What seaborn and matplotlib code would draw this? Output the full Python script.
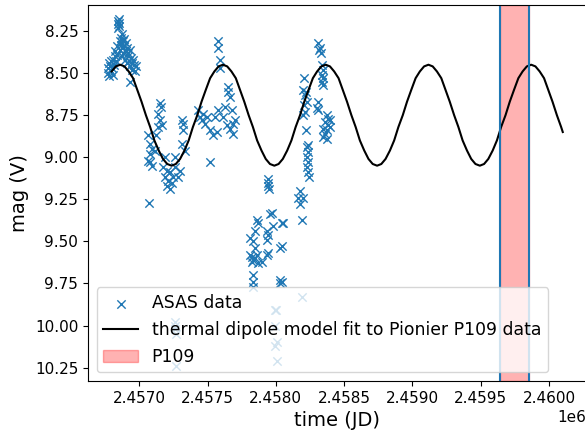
import matplotlib
matplotlib.use("Agg")
import matplotlib.pyplot as plt
import seaborn as sns

# ASAS photometry (JD, V mag)
asas_jd = [
    2456772, 2456775, 2456778, 2456782, 2456786, 2456790, 2456795, 2456800, 2456805, 2456810,
    2456815, 2456820, 2456825, 2456830, 2456835, 2456840, 2456843, 2456846, 2456848, 2456850,
    2456852, 2456855, 2456858, 2456862, 2456865, 2456868, 2456871, 2456874, 2456877, 2456880,
    2456884, 2456888, 2456892, 2456896, 2456900, 2456904, 2456908, 2456912, 2456916, 2456920,
    2456925, 2456930, 2456935, 2456940, 2456945, 2456950, 2456955, 2456962, 2456970, 2456980,
    2456932,
    2457064, 2457078, 2457092, 2457078, 2457064, 2457078, 2457092, 2457072, 2457124, 2457138,
    2457153, 2457138, 2457153, 2457160, 2457167, 2457116,
    2457175, 2457204, 2457189, 2457226, 2457211, 2457204, 2457226, 2457240, 2457248, 2457262,
    2457189, 2457262, 2457299, 2457284, 2457314, 2457336, 2457321, 2457314, 2457321,
    2457260, 2457265, 2457262, 2457270, 2457268,
    2457431, 2457445, 2457467, 2457460, 2457497, 2457482, 2457519, 2457541, 2457570, 2457555,
    2457577, 2457519, 2457577, 2457577, 2457592, 2457592, 2457650, 2457650, 2457665, 2457629,
    2457614, 2457643, 2457665, 2457687, 2457680, 2457687, 2457702,
    2457940, 2457945, 2457942, 2457948, 2457972, 2457957, 2457862, 2457870, 2457848, 2457811,
    2457833, 2457935, 2457942, 2457935, 2457979, 2458045, 2458030, 2458045, 2457848, 2457811,
    2457826, 2457833, 2457848, 2457862, 2457826, 2457870, 2457899, 2457935, 2457942, 2457833,
    2457833, 2457833, 2458030, 2458030, 2458045, 2458052,
    2457993, 2458000, 2457993, 2458008, 2457993, 2458008,
    2458176, 2458161, 2458198, 2458176, 2458190, 2458190, 2458241, 2458234, 2458227, 2458234,
    2458227, 2458234, 2458227, 2458234, 2458220, 2458198, 2458212, 2458205, 2458227, 2458212,
    2458220, 2458198, 2458205, 2458307, 2458300, 2458307, 2458322, 2458315, 2458329, 2458307,
    2458336, 2458344, 2458336, 2458344, 2458336, 2458344,
    2458373, 2458380, 2458358, 2458380, 2458344, 2458373, 2458358, 2458344, 2458373, 2458395,
    2458395,
]
asas_mag = [
    8.47, 8.50, 8.44, 8.52, 8.46, 8.49, 8.43, 8.47, 8.51, 8.42,
    8.45, 8.40, 8.37, 8.43, 8.39, 8.34, 8.21, 8.19, 8.23, 8.20,
    8.22, 8.18, 8.31, 8.36, 8.29, 8.33, 8.40, 8.27, 8.35, 8.31,
    8.38, 8.30, 8.34, 8.42, 8.32, 8.37, 8.44, 8.35, 8.40, 8.38,
    8.43, 8.36, 8.46, 8.41, 8.44, 8.48, 8.42, 8.45, 8.49, 8.46,
    8.55,
    8.87, 8.92, 8.95, 8.98, 9.02, 9.03, 9.05, 9.27, 8.87, 8.82,
    8.78, 8.74, 8.68, 8.70, 8.81, 8.96,
    9.06, 9.08, 9.12, 9.09, 9.14, 9.17, 9.19, 9.15, 9.12, 9.06,
    9.00, 9.00, 9.08, 9.12, 8.92, 8.96, 8.84, 8.78, 8.80,
    9.98, 10.00, 10.02, 10.05, 10.24,
    8.72, 8.76, 8.74, 8.78, 8.76, 8.80, 8.84, 8.87, 8.85, 8.76,
    8.72, 9.03, 8.31, 8.35, 8.42, 8.47, 8.58, 8.61, 8.64, 8.70,
    8.76, 8.81, 8.83, 8.86, 8.72, 8.80, 8.78,
    9.13, 9.15, 9.17, 9.19, 9.33, 9.34, 9.37, 9.39, 9.44, 9.48,
    9.50, 9.44, 9.46, 9.49, 9.41, 9.39, 9.54, 9.53, 9.54, 9.58,
    9.59, 9.61, 9.60, 9.58, 9.62, 9.63, 9.62, 9.58, 9.57, 9.70,
    9.74, 9.77, 9.73, 9.75, 9.74, 9.39,
    9.91, 9.91, 10.00, 10.10, 10.12, 10.21,
    9.20, 9.24, 9.24, 9.28, 9.37, 9.83, 9.12, 9.09, 9.06, 9.03,
    9.00, 8.97, 8.94, 8.93, 8.84, 8.75, 8.73, 8.69, 8.67, 8.63,
    8.61, 8.60, 8.53, 8.67, 8.71, 8.72, 8.35, 8.36, 8.38, 8.32,
    8.45, 8.48, 8.51, 8.53, 8.55, 8.57,
    8.75, 8.77, 8.79, 8.81, 8.83, 8.84, 8.86, 8.88, 8.89, 8.78,
    8.82,
]

# thermal dipole model curve, sampled off the plot
model_jd = [
    2456798, 2456829,
    2456861, 2456892, 2456923, 2456955, 2456986, 2457017, 2457049, 2457080, 2457111, 2457143, 2457174, 2457205,
    2457237, 2457268, 2457299, 2457331, 2457362, 2457393, 2457425, 2457456, 2457487, 2457519, 2457550, 2457581,
    2457613, 2457644, 2457675, 2457707, 2457738, 2457769, 2457801, 2457832, 2457863, 2457895, 2457926, 2457957,
    2457989, 2458020, 2458051, 2458083, 2458114, 2458145, 2458177, 2458208, 2458239, 2458271, 2458302, 2458333,
    2458365, 2458396, 2458427, 2458459, 2458490, 2458521, 2458553, 2458584, 2458615, 2458647, 2458678, 2458709,
    2458741, 2458772, 2458803, 2458835, 2458866, 2458897, 2458929, 2458960, 2458991, 2459023, 2459054, 2459085,
    2459117, 2459148, 2459179, 2459211, 2459242, 2459273, 2459305, 2459336, 2459367, 2459399, 2459430, 2459461,
    2459493, 2459524, 2459555, 2459587, 2459618, 2459649, 2459681, 2459712, 2459743, 2459775, 2459806, 2459837,
    2459869, 2459900, 2459931, 2459963, 2459994, 2460025, 2460057, 2460088, 2460100,
]
model_mag = [
    8.49, 8.46,
    8.45, 8.46, 8.49, 8.53, 8.60, 8.67, 8.75, 8.82, 8.90, 8.96, 9.01, 9.04,
    9.05, 9.04, 9.01, 8.96, 8.90, 8.82, 8.75, 8.67, 8.60, 8.53, 8.49, 8.46,
    8.45, 8.46, 8.49, 8.53, 8.60, 8.67, 8.75, 8.82, 8.90, 8.96, 9.01, 9.04,
    9.05, 9.04, 9.01, 8.96, 8.90, 8.82, 8.75, 8.67, 8.60, 8.53, 8.49, 8.46,
    8.45, 8.46, 8.49, 8.53, 8.60, 8.67, 8.75, 8.82, 8.90, 8.96, 9.01, 9.04,
    9.05, 9.04, 9.01, 8.96, 8.90, 8.82, 8.75, 8.67, 8.60, 8.53, 8.49, 8.46,
    8.45, 8.46, 8.49, 8.53, 8.60, 8.67, 8.75, 8.82, 8.90, 8.96, 9.01, 9.04,
    9.05, 9.04, 9.01, 8.96, 8.90, 8.82, 8.75, 8.67, 8.60, 8.53, 8.49, 8.46,
    8.45, 8.46, 8.49, 8.53, 8.60, 8.67, 8.75, 8.82, 8.85,
]

# P109 observing period
p109_start = 2459638
p109_end = 2459854

plt.rcParams["xtick.labelsize"] = 11
plt.rcParams["ytick.labelsize"] = 11

fig, ax = plt.subplots(figsize=(5.85, 4.37), dpi=100)
fig.subplots_adjust(left=0.1504, right=1.0017, top=0.9886, bottom=0.128)

sns.scatterplot(x=asas_jd, y=asas_mag, marker="x", color="C0", s=36,
                linewidth=1.0, label="ASAS data", ax=ax)
sns.lineplot(x=model_jd, y=model_mag, color="black", estimator=None, sort=False,
             linewidth=1.5, label="thermal dipole model fit to Pionier P109 data", ax=ax)
ax.axvspan(p109_start, p109_end, color="red", alpha=0.3, label="P109")
ax.axvline(p109_start, color="C0")
ax.axvline(p109_end, color="C0")

ax.set_xlim(2456625, 2460270)
ax.set_ylim(10.33, 8.095)
ax.set_xlabel("time (JD)", fontsize=14)
ax.set_ylabel("mag (V)", fontsize=14)
ax.legend(loc="lower left", fontsize=12.4)

fig.savefig("out.png", dpi=100)
